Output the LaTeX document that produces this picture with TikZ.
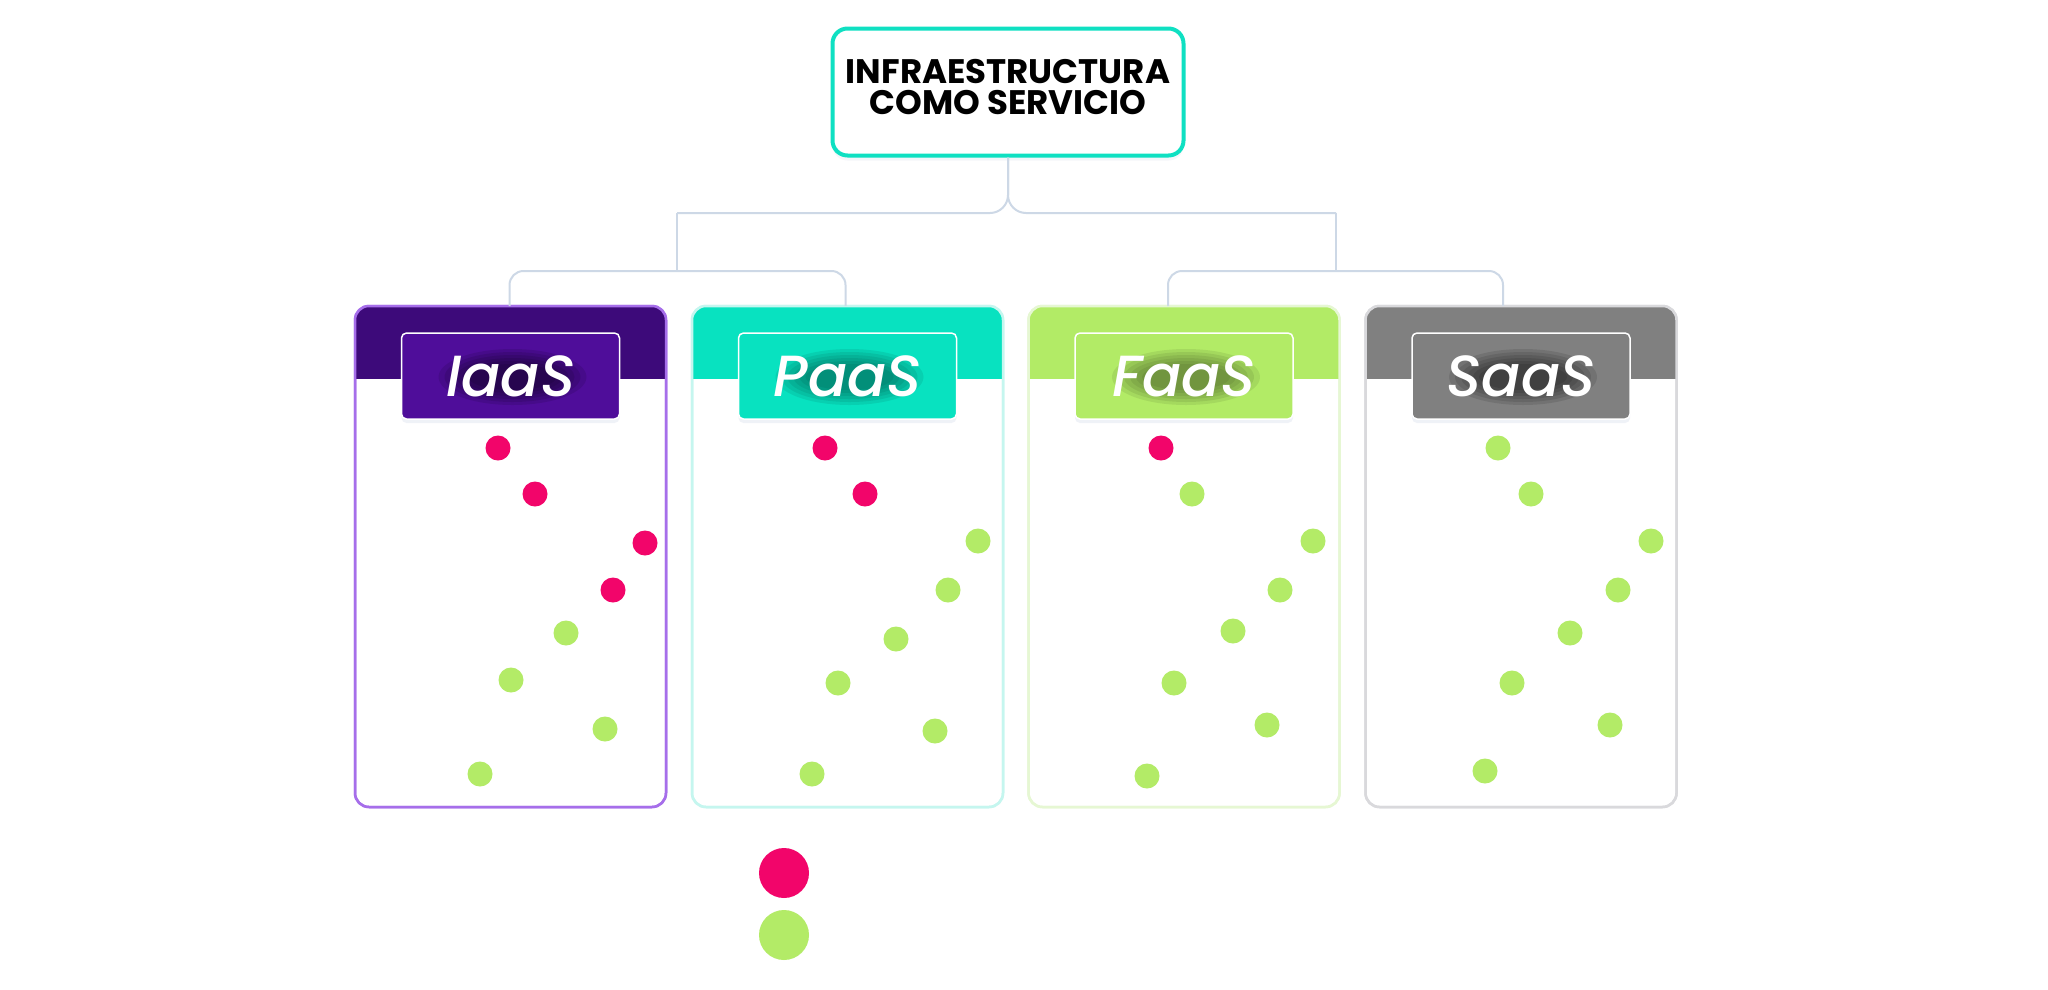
\documentclass[tikz,border=0pt]{standalone}
\usepackage{fontspec}
\setmainfont{Poppins}
\newfontfamily\tagfont{Poppins Medium Italic}
\usepackage{tikz}
\usetikzlibrary{positioning,shadows}
\definecolor{ccteal}{HTML}{0FE0C2}
\definecolor{cclink}{HTML}{CDD8E6}
\definecolor{ccred}{HTML}{F2056A}
\definecolor{ccgreen}{HTML}{B3EB67}
\definecolor{iaashead}{HTML}{3D0A7A}
\definecolor{iaastag}{HTML}{4F0D9A}
\definecolor{iaasline}{HTML}{A66EEA}
\definecolor{paashead}{HTML}{08E2C0}
\definecolor{paasline}{HTML}{C5F6EF}
\definecolor{faashead}{HTML}{B2EB66}
\definecolor{faasline}{HTML}{E6F7D3}
\definecolor{saashead}{HTML}{808080}
\definecolor{saasline}{HTML}{D9D9DC}
\definecolor{ccshade}{HTML}{9AA8D0}

\begin{document}
\begin{tikzpicture}[x=1pt,y=-1pt,
    head/.style={draw=ccteal,line width=4pt,rounded corners=15pt,fill=white,
      minimum width=351pt,minimum height=127pt,align=center,
      font=\fontsize{34}{31}\selectfont\bfseries,
      drop shadow={shadow xshift=0pt,shadow yshift=-5pt,opacity=0.10,fill=ccshade}},
    card/.style={rounded corners=14pt,minimum width=311pt,minimum height=501pt,
      line width=2.5pt,outer sep=0pt,fill=white},
    tag/.style={draw=white,line width=1.5pt,rounded corners=5pt,outer sep=0pt,
      minimum width=218pt,minimum height=86pt,text=white,
      font=\fontsize{58}{58}\tagfont,
      path picture={
        \foreach \rx/\ry in {74/28,68/25,62/22,56/19,50/16,44/13}
          \fill[#1,opacity=0.10] ([xshift=2pt,yshift=-1pt]path picture bounding box.center)
            ellipse[x radius=\rx pt,y radius=\ry pt];},
      drop shadow={shadow xshift=0pt,shadow yshift=-4pt,opacity=0.15,fill=ccshade}},
    link/.style={draw=cclink,line width=2pt},
    rdot/.style={circle,fill=ccred,inner sep=0pt,minimum size=25pt},
    gdot/.style={circle,fill=ccgreen,inner sep=0pt,minimum size=25pt},
    bigr/.style={circle,fill=ccred,inner sep=0pt,minimum size=50pt},
    bigg/.style={circle,fill=ccgreen,inner sep=0pt,minimum size=50pt}]
  \useasboundingbox[fill=white] (0,0) rectangle (2048,989);

  \node[head] (top) at (1008,92) {INFRAESTRUCTURA\\COMO SERVICIO\vphantom{g}};

  % the four cards
  \node[card,draw=iaasline] (iaas) at (510.5,556.5) {};
  \node[card,draw=paasline] (paas) at (847.5,556.5) {};
  \node[card,draw=faasline] (faas) at (1184,556.5) {};
  \node[card,draw=saasline] (saas) at (1521,556.5) {};
  \begin{scope}
    \clip[rounded corners=14pt] (iaas.south west) rectangle (iaas.north east);
    \fill[iaashead] (iaas.north west) rectangle ([yshift=-73pt]iaas.north east);
  \end{scope}
  \begin{scope}
    \clip[rounded corners=14pt] (paas.south west) rectangle (paas.north east);
    \fill[paashead] (paas.north west) rectangle ([yshift=-73pt]paas.north east);
  \end{scope}
  \begin{scope}
    \clip[rounded corners=14pt] (faas.south west) rectangle (faas.north east);
    \fill[faashead] (faas.north west) rectangle ([yshift=-73pt]faas.north east);
  \end{scope}
  \begin{scope}
    \clip[rounded corners=14pt] (saas.south west) rectangle (saas.north east);
    \fill[saashead] (saas.north west) rectangle ([yshift=-73pt]saas.north east);
  \end{scope}
  \draw[iaasline,line width=2.5pt,rounded corners=14pt] (iaas.south west) rectangle (iaas.north east);
  \draw[paasline,line width=2.5pt,rounded corners=14pt] (paas.south west) rectangle (paas.north east);
  \draw[faasline,line width=2.5pt,rounded corners=14pt] (faas.south west) rectangle (faas.north east);
  \draw[saasline,line width=2.5pt,rounded corners=14pt] (saas.south west) rectangle (saas.north east);

  \node[tag=black,fill=iaastag,below=27pt of iaas.north] (iaastxt) {IaaS};
  \node[tag=black!75!paashead,fill=paashead,below=27pt of paas.north] (paastxt) {PaaS};
  \node[tag=black!75!faashead,fill=faashead,below=27pt of faas.north] (faastxt) {FaaS};
  \node[tag=black,fill=saashead,below=27pt of saas.north] (saastxt) {SaaS};

  % tree
  \coordinate (ul) at (677,213);
  \coordinate (ur) at (1336,213);
  \coordinate (jl) at (677,271);
  \coordinate (jr) at (1336,271);
  \draw[link,rounded corners=18pt] (top.south) |- (ul);
  \draw[link,rounded corners=18pt] (top.south) |- (ur);
  \draw[link] (ul) -- (jl);
  \draw[link] (ur) -- (jr);
  \draw[link,rounded corners=14pt] ([xshift=-1pt]iaas.north) |- (jl) -| ([xshift=-2pt]paas.north);
  \draw[link,rounded corners=14pt] ([xshift=-16pt]faas.north) |- (jr) -| ([xshift=-18pt]saas.north);

  % dots
  \node[rdot] (i1) at (498,448) {};  \node[rdot] (i2) at (535,494) {};
  \node[rdot] (i3) at (645,543) {};  \node[rdot] (i4) at (613,590) {};
  \node[gdot] (i5) at (566,633) {};  \node[gdot] (i6) at (511,680) {};
  \node[gdot] (i7) at (605,729) {};  \node[gdot] (i8) at (480,774) {};

  \node[rdot] (p1) at (825,448) {};  \node[rdot] (p2) at (865,494) {};
  \node[gdot] (p3) at (978,541) {};  \node[gdot] (p4) at (948,590) {};
  \node[gdot] (p5) at (896,639) {};  \node[gdot] (p6) at (838,683) {};
  \node[gdot] (p7) at (935,731) {};  \node[gdot] (p8) at (812,774) {};

  \node[rdot] (f1) at (1161,448) {}; \node[gdot] (f2) at (1192,494) {};
  \node[gdot] (f3) at (1313,541) {}; \node[gdot] (f4) at (1280,590) {};
  \node[gdot] (f5) at (1233,631) {}; \node[gdot] (f6) at (1174,683) {};
  \node[gdot] (f7) at (1267,725) {}; \node[gdot] (f8) at (1147,776) {};

  \node[gdot] (s1) at (1498,448) {}; \node[gdot] (s2) at (1531,494) {};
  \node[gdot] (s3) at (1651,541) {}; \node[gdot] (s4) at (1618,590) {};
  \node[gdot] (s5) at (1570,633) {}; \node[gdot] (s6) at (1512,683) {};
  \node[gdot] (s7) at (1610,725) {}; \node[gdot] (s8) at (1485,771) {};

  % legend
  \node[bigr] (keyr) at (784,873) {};
  \node[bigg] (keyg) at (784,935) {};
\end{tikzpicture}
\end{document}
